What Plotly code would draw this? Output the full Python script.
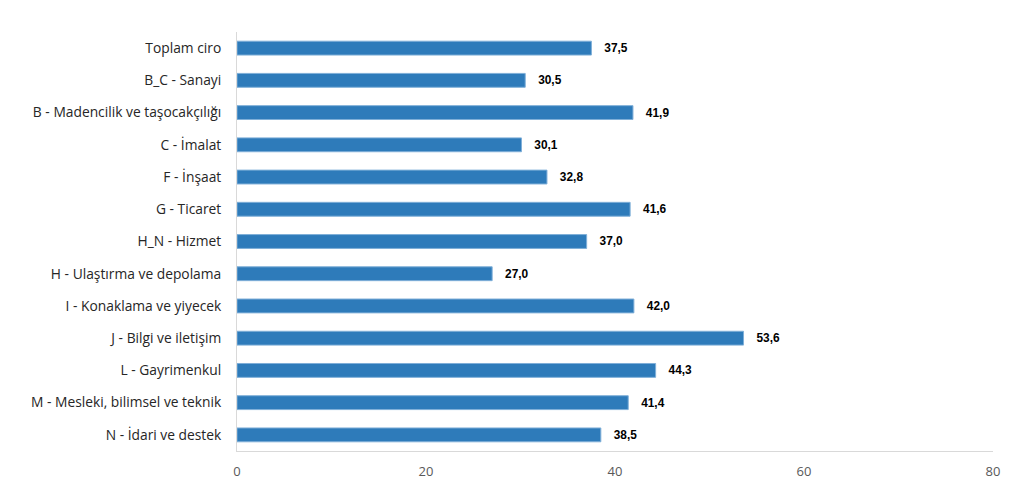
import plotly.graph_objects as go

categories = [
    "Toplam ciro",
    "B_C - Sanayi",
    "B - Madencilik ve taşocakçılığı",
    "C - İmalat",
    "F - İnşaat",
    "G - Ticaret",
    "H_N - Hizmet",
    "H - Ulaştırma ve depolama",
    "I - Konaklama ve yiyecek",
    "J - Bilgi ve iletişim",
    "L - Gayrimenkul",
    "M - Mesleki, bilimsel ve teknik",
    "N - İdari ve destek",
]
values = [37.5, 30.5, 41.9, 30.1, 32.8, 41.6, 37.0, 27.0, 42.0, 53.6, 44.3, 41.4, 38.5]
x_ticks = [0, 20, 40, 60, 80]

labels = ["   " + f"{v:.1f}".replace(".", ",") for v in values]

fig = go.Figure(go.Bar(
    y=categories,
    x=values,
    orientation="h",
    marker=dict(color="#2E7BBA", line=dict(color="#7FAFD8", width=1)),
    text=labels,
    textposition="outside",
    textfont=dict(family="Liberation Sans", size=12, color="#000000", weight="bold"),
    cliponaxis=False,
))

fig.update_layout(
    width=1024, height=496,
    margin=dict(l=229, r=39, t=24, b=53),
    paper_bgcolor="white", plot_bgcolor="white",
    bargap=0.57,
    showlegend=False,
    font=dict(family="Open Sans", size=13, color="#404040"),
)
fig.update_yaxes(
    autorange="reversed",
    showline=True, linecolor="#D9D9D9", linewidth=1,
    ticks="", ticklabelstandoff=12,
    tickfont=dict(family="Open Sans", size=13.8, color="#262626"),
    showgrid=False,
)
fig.update_xaxes(
    range=[0, 80], tickvals=x_ticks,
    showgrid=False, zeroline=False,
    showline=True, linecolor="#D9D9D9", linewidth=1,
    ticks="", ticklabelstandoff=8,
    tickfont=dict(family="Open Sans", size=13, color="#595959"),
)

fig.write_html("out.html")
